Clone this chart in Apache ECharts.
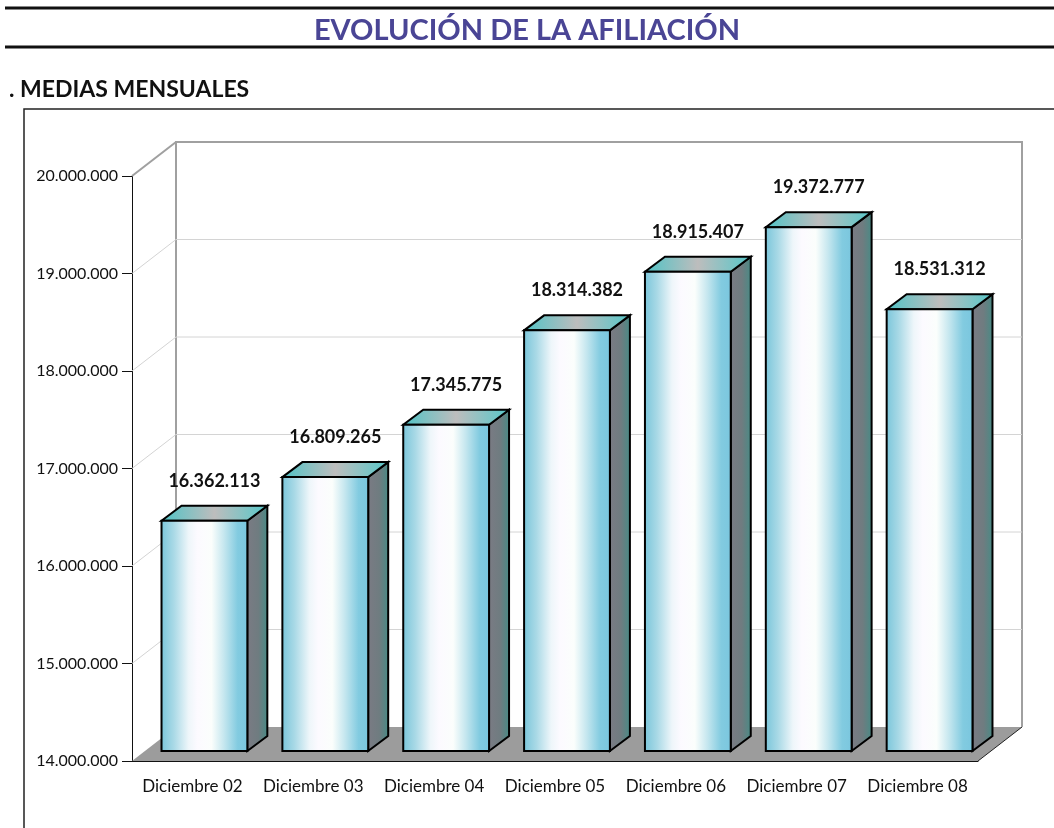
<!DOCTYPE html>
<html>
<head>
<meta charset="utf-8">
<title>Evolución de la afiliación</title>
<script src="https://cdn.jsdelivr.net/npm/echarts@6/dist/echarts.min.js"></script>
<style>
  html, body { margin: 0; padding: 0; background: #fff; }
  #chart { width: 1054px; height: 828px; }
</style>
</head>
<body>
<div id="chart"></div>
<script>
// datos
var categorias = ['Diciembre 02', 'Diciembre 03', 'Diciembre 04', 'Diciembre 05', 'Diciembre 06', 'Diciembre 07', 'Diciembre 08'];
var afiliados = [16362113, 16809265, 17345775, 18314382, 18915407, 19372777, 18531312];
var marcasY = [14000000, 15000000, 16000000, 17000000, 18000000, 19000000, 20000000];

var FONT = 'Lato, "DejaVu Sans", sans-serif';
// profundidad del "3D"
var DX = 44, DY = -34;
var BAR_OFF_X = 12, BAR_OFF_Y = -10;
var BAR_DX = 20, BAR_DY = -15;

function puntos(v) {
  return String(v).replace(/\B(?=(\d{3})+(?!\d))/g, '.');
}

function pared(params, api) {
  var cs = params.coordSys;
  var x0 = cs.x, x1 = cs.x + cs.width;
  var v = api.value(1);
  var y = api.coord([0, v])[1];
  var kids = [];
  var esMax = v === marcasY[marcasY.length - 1];
  var esMin = v === marcasY[0];
  if (esMin) {
    var yTop = api.coord([0, marcasY[marcasY.length - 1]])[1];
    // suelo
    kids.push({
      type: 'polygon',
      shape: { points: [[x0, y], [x1, y], [x1 + DX, y + DY], [x0 + DX, y + DY]] },
      style: { fill: '#9c9c9c', stroke: null }
    });
    kids.push({
      type: 'polyline',
      shape: { points: [[x1, y], [x1 + DX, y + DY]] },
      style: { stroke: '#222', lineWidth: 1, fill: null }
    });
    // bordes de la pared del fondo
    kids.push({
      type: 'polyline',
      shape: { points: [[x0 + DX, y + DY], [x0 + DX, yTop + DY], [x1 + DX, yTop + DY], [x1 + DX, y + DY]] },
      style: { stroke: '#a0a0a0', lineWidth: 2, fill: null }
    });
    return { type: 'group', children: kids };
  }
  kids.push({
    type: 'line',
    shape: { x1: x0, y1: y, x2: x0 + DX, y2: y + DY },
    style: { stroke: esMax ? '#a0a0a0' : '#d4d4d4', lineWidth: esMax ? 2 : 1 }
  });
  if (!esMax) {
    kids.push({
      type: 'line',
      shape: { x1: x0 + DX, y1: y + DY, x2: x1 + DX, y2: y + DY },
      style: { stroke: '#d4d4d4', lineWidth: 1 }
    });
  }
  return { type: 'group', children: kids };
}

function barra(params, api) {
  var i = api.value(0);
  var v = api.value(1);
  var base = api.coord([i, marcasY[0]]);
  var top = api.coord([i, v]);
  var bw = api.size([1, 0])[0] * 0.71;
  var xl = base[0] - bw / 2 + BAR_OFF_X;
  var xr = xl + bw;
  var yb = base[1] + BAR_OFF_Y;
  var yt = top[1] + BAR_OFF_Y;
  var borde = { stroke: '#000', lineWidth: 2, lineJoin: 'miter' };

  var frente = new echarts.graphic.LinearGradient(0, 0, 1, 0, [
    { offset: 0, color: '#78c5da' },
    { offset: 0.15, color: '#a9d9e6' },
    { offset: 0.32, color: '#eef6fa' },
    { offset: 0.42, color: '#fcfaff' },
    { offset: 0.58, color: '#fbfefc' },
    { offset: 0.72, color: '#c6e7ef' },
    { offset: 0.88, color: '#82cbe0' },
    { offset: 1, color: '#7ac6de' }
  ]);
  var lado = new echarts.graphic.LinearGradient(0, 0, 1, 0, [
    { offset: 0, color: '#7b7b84' },
    { offset: 0.55, color: '#6f7c80' },
    { offset: 1, color: '#458c86' }
  ]);
  var tapa = new echarts.graphic.LinearGradient(0, 0, 1, 0, [
    { offset: 0, color: '#4ec3c6' },
    { offset: 0.5, color: '#bdbdbd' },
    { offset: 1, color: '#55c8ca' }
  ]);

  return {
    type: 'group',
    children: [
      {
        type: 'polygon',
        shape: { points: [[xr, yb], [xr + BAR_DX, yb + BAR_DY], [xr + BAR_DX, yt + BAR_DY], [xr, yt]] },
        style: echarts.util.extend({ fill: lado }, borde)
      },
      {
        type: 'polygon',
        shape: { points: [[xl, yt], [xr, yt], [xr + BAR_DX, yt + BAR_DY], [xl + BAR_DX, yt + BAR_DY]] },
        style: echarts.util.extend({ fill: tapa }, borde)
      },
      {
        type: 'rect',
        shape: { x: xl, y: yt, width: bw, height: yb - yt },
        style: echarts.util.extend({ fill: frente }, borde)
      },
      {
        type: 'text',
        style: {
          text: puntos(v),
          x: (xl + xr) / 2 + BAR_DX / 2,
          y: yt + BAR_DY - 25,
          align: 'center',
          verticalAlign: 'middle',
          fontFamily: FONT,
          fontWeight: 'bold',
          fontSize: 18,
          fill: '#111'
        }
      }
    ]
  };
}

var dom = document.getElementById('chart');
var myChart = echarts.init(dom, null, { renderer: 'canvas' });
var option = {
  animation: false,
  backgroundColor: '#fff',
  title: [{
    text: 'EVOLUCIÓN DE LA AFILIACIÓN',
    left: 'center',
    top: 11,
    textStyle: { fontFamily: FONT, fontWeight: 'bold', fontSize: 29, color: '#4a4595' }
  }, {
    text: '. MEDIAS MENSUALES',
    left: 4,
    top: 73,
    textStyle: { fontFamily: FONT, fontWeight: 'bold', fontSize: 23, color: '#111' }
  }],
  graphic: [
    { type: 'line', shape: { x1: 5, y1: 8, x2: 1054, y2: 8 }, style: { stroke: '#111', lineWidth: 3 } },
    { type: 'line', shape: { x1: 5, y1: 47, x2: 1054, y2: 47 }, style: { stroke: '#111', lineWidth: 3 } },
    { type: 'rect', shape: { x: 24, y: 109, width: 1100, height: 800 }, style: { fill: null, stroke: '#222', lineWidth: 1.5 } }
  ],
  grid: { left: 132, right: 76, top: 176, bottom: 67 },
  xAxis: {
    type: 'category',
    data: categorias,
    axisLine: { lineStyle: { color: '#111', width: 1 } },
    axisTick: { length: 9, interval: 0, lineStyle: { color: '#111' } },
    axisLabel: { fontFamily: FONT, fontSize: 17, color: '#111', margin: 17, interval: 0 }
  },
  yAxis: {
    type: 'value',
    min: 14000000,
    max: 20000000,
    interval: 1000000,
    axisLine: { show: true, lineStyle: { color: '#111', width: 1 } },
    axisTick: { show: true, length: 10, lineStyle: { color: '#111' } },
    splitLine: { show: false },
    axisLabel: {
      fontFamily: FONT, fontSize: 16, color: '#111', margin: 14,
      formatter: function (v) { return puntos(v); }
    }
  },
  series: [{
    type: 'custom',
    z: 1,
    silent: true,
    renderItem: pared,
    data: marcasY.map(function (v) { return [0, v]; })
  }, {
    type: 'custom',
    z: 3,
    renderItem: barra,
    data: afiliados.map(function (v, i) { return [i, v]; })
  }]
};

if (option && typeof option === 'object') {
  myChart.setOption(option, true);
  window.onresize = myChart.resize;
}
</script>
</body>
</html>
